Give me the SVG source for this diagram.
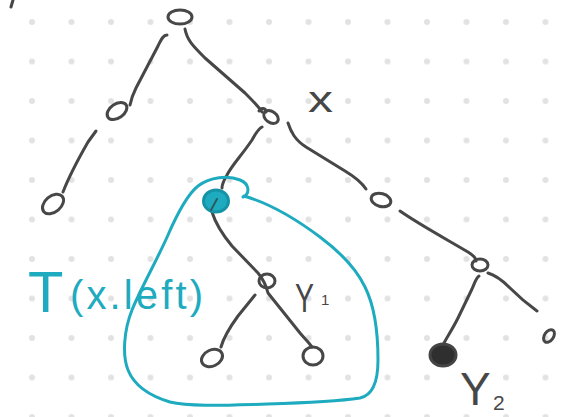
<svg xmlns="http://www.w3.org/2000/svg" width="565" height="417" viewBox="0 0 565 417">
<defs>
<pattern id="dots" patternUnits="userSpaceOnUse" x="12.25" y="2.25" width="39.5" height="39.5">
<circle cx="19.75" cy="19.75" r="3" fill="#e2e2e2"/>
</pattern>
</defs>
<style>
.ink{fill:none;stroke:#474747;stroke-width:3;stroke-linecap:round;stroke-linejoin:round}
.teal{fill:none;stroke:#1eabbf;stroke-width:3;stroke-linecap:round;stroke-linejoin:round}
.lbl{font-family:"Liberation Sans",Arial,sans-serif;fill:#474747}
.tlbl{font-family:"Liberation Sans",Arial,sans-serif;fill:#1eabbf}
</style>
<rect width="565" height="417" fill="#ffffff"/>
<rect width="565" height="417" fill="url(#dots)"/>
<path class="ink" d="M13,0 L11,7"/>
<g id="connectors">
<path class="ink" d="M167,35 C163,35 161,40 158,46 L136,88 C132,96 131,100 130,105"/>
<path class="ink" d="M185,29 C187,40 193,46 205,58 L245,93 C253,101 259,107 262,112"/>
<path class="ink" d="M96,131 L88,142 C80,156 70,174 63,192"/>
<path class="ink" d="M262,127 C258,129 256,133 252,140 C242,155 232,165 227,175 C224,180 222,184 222,188"/>
<path class="ink" d="M288,123 C291,132 295,140 306,147 L345,171 C355,177 362,183 366,189"/>
<path class="ink" d="M400,211 C420,225 448,240 468,252 C473,255 476,258 476,261"/>
<path class="ink" d="M479,276 C476,278 475,282 472,289 L458,318 C452,330 447,337 443,345"/>
<path class="ink" d="M488,273 C495,275 502,280 510,288 C520,298 530,306 537,311"/>
<path class="ink" d="M212,212 C216,225 222,234 232,246 L258,273 C263,279 266,285 268,293 L300,333 C306,340 310,344 312,347"/>
<path class="ink" d="M255,295 L238,316 C230,327 224,336 221,347"/>
</g>
<g id="root"><ellipse class="ink" cx="180" cy="17" rx="12" ry="7"/></g>
<g id="node-left"><ellipse class="ink" cx="117" cy="111" rx="11" ry="7" transform="rotate(-35 117 111)"/></g>
<g id="node-left-leaf"><ellipse class="ink" cx="53" cy="204" rx="12" ry="8" transform="rotate(-40 53 204)"/></g>
<g id="node-x">
<path class="ink" d="M259,111 C261,107 266,108 266,112"/>
<ellipse class="ink" cx="271" cy="117" rx="8" ry="5.5" transform="rotate(35 271 117)"/>
<text class="lbl" x="308" y="112" font-size="36" textLength="25" lengthAdjust="spacingAndGlyphs">x</text>
</g>
<g id="node-xleft">
<ellipse cx="216" cy="201" rx="12.5" ry="11" fill="#1eabbf" stroke="#1793a6" stroke-width="3"/>
<path d="M211,210 L217,199" stroke="#2d5a60" stroke-width="2" fill="none" stroke-linecap="round"/>
</g>
<g id="node-right1"><ellipse class="ink" cx="381" cy="200" rx="10" ry="6.5" transform="rotate(15 381 200)"/></g>
<g id="node-y1">
<ellipse class="ink" cx="267" cy="281" rx="8" ry="7"/>
<text class="lbl" x="295" y="312" font-size="40" textLength="19" lengthAdjust="spacingAndGlyphs">Y</text>
<text class="lbl" x="321" y="305" font-size="15">1</text>
</g>
<g id="node-leaf-a"><ellipse class="ink" cx="212" cy="358" rx="11" ry="8" transform="rotate(-25 212 358)"/></g>
<g id="node-leaf-b"><ellipse class="ink" cx="313" cy="356" rx="10" ry="9"/></g>
<g id="node-right2"><ellipse class="ink" cx="480" cy="265" rx="8" ry="6"/></g>
<g id="node-y2">
<ellipse cx="443" cy="355" rx="13" ry="11" fill="#2f2f2f" stroke="#444" stroke-width="3"/>
<text class="lbl" x="460" y="405" font-size="46">Y</text>
<text class="lbl" x="493" y="410" font-size="21">2</text>
</g>
<g id="node-small"><ellipse class="ink" cx="549" cy="336" rx="4.5" ry="7" transform="rotate(35 549 336)"/></g>
<g id="subtree-outline">
<path class="teal" d="M243,197 C250,194 250,184 240,180 C228,175 210,177 198,186 C188,194 178,212 168,235 C158,258 140,290 132,310 C124,330 122,355 128,370 C134,385 150,396 170,402 C190,407 230,405 267,404 C300,403 340,401 360,398 C374,395 378,380 378,360 C378,330 374,305 365,287 C356,268 340,252 320,237 C300,222 272,204 244,196"/>
<text class="tlbl" x="28" y="312" font-size="58">T</text>
<text class="tlbl" x="70" y="309" font-size="40" textLength="133" lengthAdjust="spacing">(x.left)</text>
</g>
</svg>
